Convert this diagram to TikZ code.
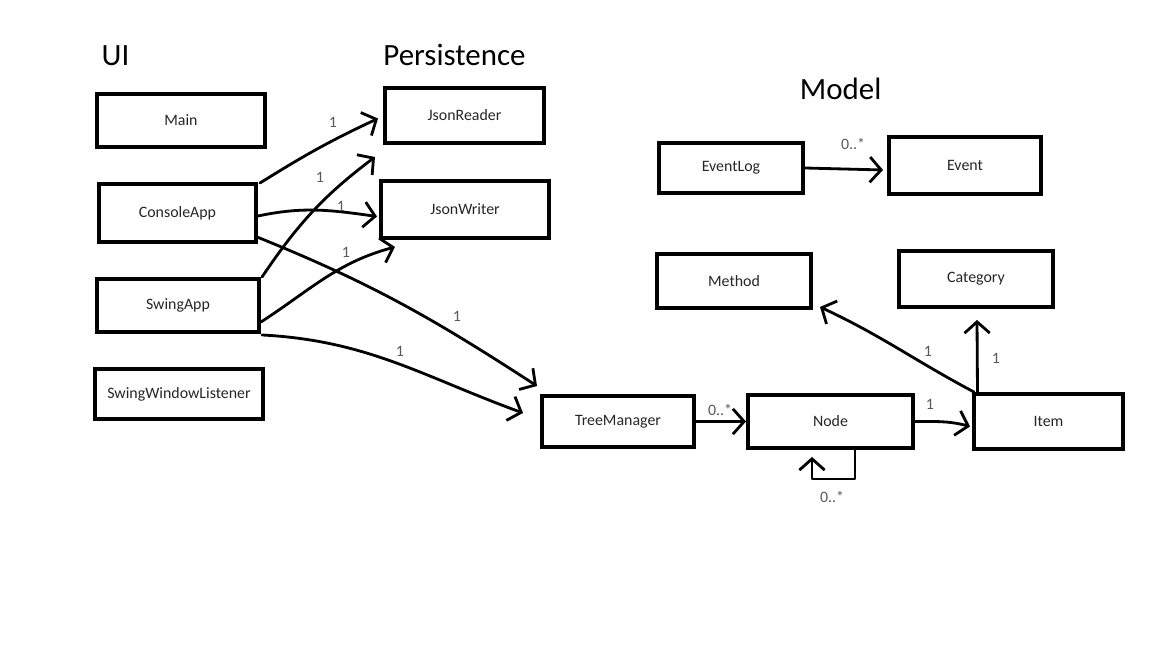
\documentclass[tikz,border=0pt]{standalone}
\usepackage{fontspec}
\setmainfont{Carlito}
\usetikzlibrary{arrows.meta,calc}
\begin{document}
\begin{tikzpicture}[x=0.025cm,y=0.025cm,
  box/.style={draw, line width=2.8pt, rectangle, inner sep=0pt, font=\fontsize{11.3}{13}\selectfont, text=black!85},
  conn/.style={line width=2pt, line cap=round, line join=round, -{Straight Barb[length=8pt,width=18pt,line width=2pt]}},
  lbl/.style={font=\fontsize{11.3}{13}\selectfont, text=black!65, inner sep=0pt},
  title/.style={font=\fontsize{22}{26}\selectfont, inner sep=0pt, anchor=base}]
\useasboundingbox (0,0) rectangle (1152,-648);

% titles
\node[title] (tui) at (115.5,-66) {UI};
\node[title] (tpers) at (454.5,-66) {Persistence};
\node[title] (tmodel) at (840.7,-100) {Model};

% UI
\node[box, minimum width=4.2cm,   minimum height=1.325cm] (main)       at (181,-120.5) {Main};
\node[box, minimum width=3.925cm, minimum height=1.45cm]  (consoleapp) at (177.5,-213) {ConsoleApp};
\node[box, minimum width=4.05cm,  minimum height=1.325cm] (swingapp)   at (178,-305.5) {SwingApp};
\node[box, minimum width=4.2cm,   minimum height=1.25cm]  (swl)        at (179,-394) {SwingWindowListener};

% Persistence
\node[box, minimum width=3.975cm, minimum height=1.375cm] (jsonreader) at (464.5,-115.5) {JsonReader};
\node[box, minimum width=4.2cm,   minimum height=1.425cm] (jsonwriter) at (465,-209.5) {JsonWriter};

% Model
\node[box, minimum width=3.6cm,   minimum height=1.25cm]  (eventlog)   at (731,-168) {EventLog};
\node[box, minimum width=3.8cm,   minimum height=1.425cm] (event)      at (965,-165.5) {Event};
\node[box, minimum width=3.85cm,  minimum height=1.35cm]  (method)     at (734,-281) {Method};
\node[box, minimum width=3.85cm,  minimum height=1.4cm]   (category)   at (976,-279) {Category};
\node[box, minimum width=3.8cm,   minimum height=1.275cm] (treemanager) at (618,-421.5) {TreeManager};
\node[box, minimum width=4.125cm, minimum height=1.325cm] (nodebox)    at (830.5,-421.5) {Node};
\node[box, minimum width=3.725cm, minimum height=1.375cm] (item)       at (1048.5,-421.5) {Item};

% connectors
\draw[conn] ($(consoleapp.north east)+(2,-1)$) to[out=32,in=205] ($(jsonreader.west)+(-5,-3)$);
\draw[conn] ($(swingapp.north east)+(1,0)$) to[out=56,in=217] ($(jsonreader.south west)+(-8,-12)$);
\draw[conn] ($(consoleapp.east)+(0,-3)$) to[out=12,in=172] ($(jsonwriter.west)+(-2,-7)$);
\draw[conn] ($(swingapp.east)+(0,-16.5)$) to[out=33,in=195] ($(jsonwriter.south west)+(16,-7)$);
\draw[conn] ($(consoleapp.south east)+(-1,7)$) to[out=-22,in=147] ($(treemanager.north west)+(-3,8)$);
\draw[conn] ($(swingapp.south east)+(1,-1)$) to[out=-3,in=160] ($(treemanager.west)+(-17,8.5)$);
\draw[conn] (treemanager.east) -- (nodebox.west);
\draw[conn] (nodebox.east) to[out=0,in=165] ($(item.west)+(-2,-5)$);
\draw[conn] ($(nodebox.south)+(24.5,0)$) -- ++(0,-29) -| ($(nodebox.south)+(-18.5,-7)$);
\draw[conn] ($(item.north)+(-71,0)$) -- ($(category.south)+(1,-11)$);
\draw[conn] ($(item.north west)+(2,0)$) to[out=152,in=-25] ($(method.south east)+(7,3)$);
\draw[conn] (eventlog.east) -- ($(event.west)+(-4,-4.5)$);

% multiplicities
\node[lbl] (l1)  at (333,-122) {1};
\node[lbl] (l2)  at (320,-177) {1};
\node[lbl] (l3)  at (341,-206) {1};
\node[lbl] (l4)  at (346,-252) {1};
\node[lbl] (l5)  at (457,-316) {1};
\node[lbl] (l6)  at (400,-351) {1};
\node[lbl] (l7)  at (720,-410) {0..*};
\node[lbl] (l8)  at (930,-404) {1};
\node[lbl] (l9)  at (832,-497) {0..*};
\node[lbl] (l10) at (996,-358) {1};
\node[lbl] (l11) at (928,-351) {1};
\node[lbl] (l12) at (853,-144) {0..*};
\end{tikzpicture}
\end{document}
